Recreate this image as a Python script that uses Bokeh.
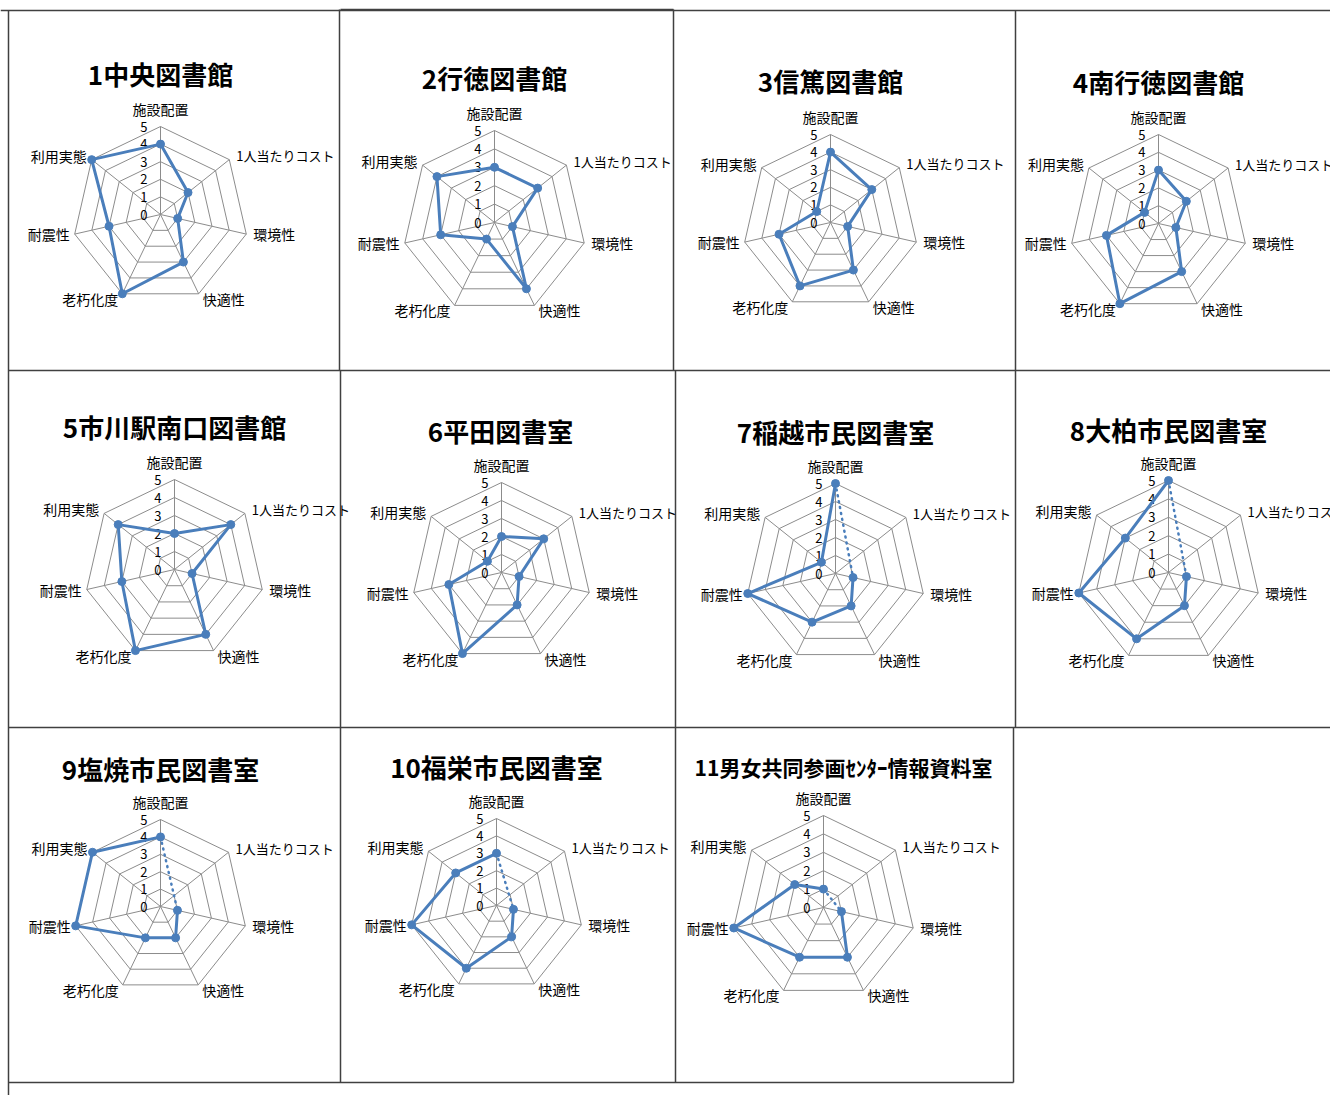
import math
from bokeh.plotting import figure
from bokeh.models import Range1d
from bokeh.core.properties import value
from bokeh.embed import file_html
from bokeh.resources import INLINE

# ---------------- data ----------------
categories = ["施設配置", "1人当たりコスト", "環境性", "快適性", "老朽化度", "耐震性", "利用実態"]
tick_labels = ["0", "1", "2", "3", "4", "5"]
titles = ["1中央図書館", "2行徳図書館", "3信篤図書館", "4南行徳図書館",
          "5市川駅南口図書館", "6平田図書室", "7稲越市民図書室", "8大柏市民図書室",
          "9塩焼市民図書室", "10福栄市民図書室", "11男女共同参画ｾﾝﾀｰ情報資料室"]
v01 = [4, 2, 1, 3, 5, 3, 5]
v02 = [3, 3, 1, 4, 1, 3, 4]
v03 = [4, 3, 1, 3, 4, 3, 1]
v04 = [3, 2, 1, 3, 5, 3, 1]
v05 = [2, 4, 1, 4, 5, 3, 4]
v06 = [2, 3, 1, 2, 5, 3, 1]
v07 = [5, None, 1, 2, 3, 5, 1]
v08 = [5, None, 1, 2, 4, 5, 3]
v09 = [4, None, 1, 2, 2, 5, 5]
v10 = [3, None, 1, 2, 4, 5, 3]
v11 = [1, None, 1, 3, 3, 5, 2]
series = [v01, v02, v03, v04, v05, v06, v07, v08, v09, v10, v11]
scale_max = 5

# ---------------- layout (page pixels) ----------------
centers = [(160, 214), (494, 222), (830, 222), (1158, 223),
           (174, 569), (501, 572), (835, 573), (1168, 572),
           (160, 906), (496, 905), (823, 907)]
title_pos = [(160, 73), (494, 77), (830, 80), (1158, 81),
             (174, 426), (500, 430), (835, 431), (1168, 429),
             (160, 768), (496, 766), (843, 766)]
radii = [88, 92, 88, 89, 90, 90, 90, 92, 87, 87, 92]
title_sizes = ["26px"] * 10 + ["21px"]
label_sizes = ["14px", "13px", "14px", "14px", "14px", "14px", "14px"]
# border segments: (x0, y0, x1, y1)
borders = [
    (0, 10, 1330, 10), (340, 9, 673, 9),
    (8, 10, 8, 1095),
    (339, 9, 339, 370), (673, 9, 673, 370), (1015, 10, 1015, 370),
    (340, 370, 340, 1082), (675, 370, 675, 1082), (1015, 370, 1015, 727), (1013, 727, 1013, 1082),
    (8, 370, 1330, 370), (8, 727, 1330, 727), (8, 1082, 1013, 1082),
]

BLUE = "#4A7EBB"
GRID = "#8C8C8C"
FONT = value("Noto Sans CJK JP")

p = figure(width=1330, height=1095, x_range=Range1d(0, 1330), y_range=Range1d(1095, 0),
           output_backend="svg", toolbar_location=None, min_border=0,
           x_axis_location=None, y_axis_location=None)
p.grid.visible = False
p.outline_line_color = None
p.background_fill_color = "white"

# borders
p.segment(x0=[b[0] for b in borders], y0=[b[1] for b in borders],
          x1=[b[2] for b in borders], y1=[b[3] for b in borders],
          line_color="#404040", line_width=1.5)

n = len(categories)
angles = [2 * math.pi * i / n for i in range(n)]


def pt(cx, cy, r, a):
    return cx + r * math.sin(a), cy - r * math.cos(a)


def runs(vals):
    m = len(vals)
    pres = [v is not None for v in vals]
    if all(pres):
        return [list(range(m)) + [0]], []
    solid, dotted = [], []
    start = next(i for i in range(m) if not pres[i])
    run = []
    for k in range(1, m + 1):
        i = (start + k) % m
        if pres[i]:
            run.append(i)
        else:
            if len(run) > 1:
                solid.append(run)
            run = []
    for i in range(m):
        if not pres[i]:
            a = (i - 1) % m
            b = (i + 1) % m
            while not pres[a]:
                a = (a - 1) % m
            while not pres[b]:
                b = (b + 1) % m
            dotted.append([a, b])
    return solid, dotted


label_specs = [  # (align, dx, dy)
    ("center", 0, -18), ("left", 7, -4), ("left", 7, 0), ("left", 4, 5),
    ("right", -4, 5), ("right", -5, 0), ("right", -5, -4)]

for idx, vals in enumerate(series):
    cx, cy = centers[idx]
    R = radii[idx]
    # grid heptagons
    gx, gy = [], []
    for k in range(1, scale_max + 1):
        rr = R * k / scale_max
        xs, ys = zip(*[pt(cx, cy, rr, a) for a in angles + [angles[0]]])
        gx.append(list(xs)); gy.append(list(ys))
    p.multi_line(gx, gy, line_color=GRID, line_width=1)
    # spokes
    sx, sy = [], []
    for a in angles:
        ex, ey = pt(cx, cy, R, a)
        sx.append([cx, ex]); sy.append([cy, ey])
    p.multi_line(sx, sy, line_color=GRID, line_width=1)
    # tick labels
    p.text(x=[cx - 13] * len(tick_labels),
           y=[cy - R * int(t) / scale_max for t in tick_labels],
           text=tick_labels, text_font=FONT, text_font_size="13px",
           text_align="right", text_baseline="middle", text_color="black")
    # category labels
    for ci, cat in enumerate(categories):
        al, dx, dy = label_specs[ci]
        vx, vy = pt(cx, cy, R, angles[ci])
        p.text(x=[vx + dx], y=[vy + dy], text=[cat], text_font=FONT,
               text_font_size=label_sizes[ci], text_align=al, text_baseline="middle",
               text_color="black")
    # title
    tx, ty = title_pos[idx]
    p.text(x=[tx], y=[ty], text=[titles[idx]], text_font=FONT,
           text_font_size=title_sizes[idx], text_font_style="bold",
           text_align="center", text_baseline="middle", text_color="black")
    # data
    pts = [pt(cx, cy, R * v / scale_max, angles[i]) if v is not None else None
           for i, v in enumerate(vals)]
    solid, dotted = runs(vals)
    p.multi_line([[pts[i][0] for i in r] for r in solid],
                 [[pts[i][1] for i in r] for r in solid],
                 line_color=BLUE, line_width=3, line_join="round", line_cap="round")
    if dotted:
        p.multi_line([[pts[i][0] for i in r] for r in dotted],
                     [[pts[i][1] for i in r] for r in dotted],
                     line_color=BLUE, line_width=2.5, line_dash="1 5", line_cap="round")
    px = [q[0] for q in pts if q is not None]
    py = [q[1] for q in pts if q is not None]
    p.scatter(px, py, size=8, fill_color=BLUE, line_color=BLUE)

open("out.html", "w").write(file_html(p, INLINE))
